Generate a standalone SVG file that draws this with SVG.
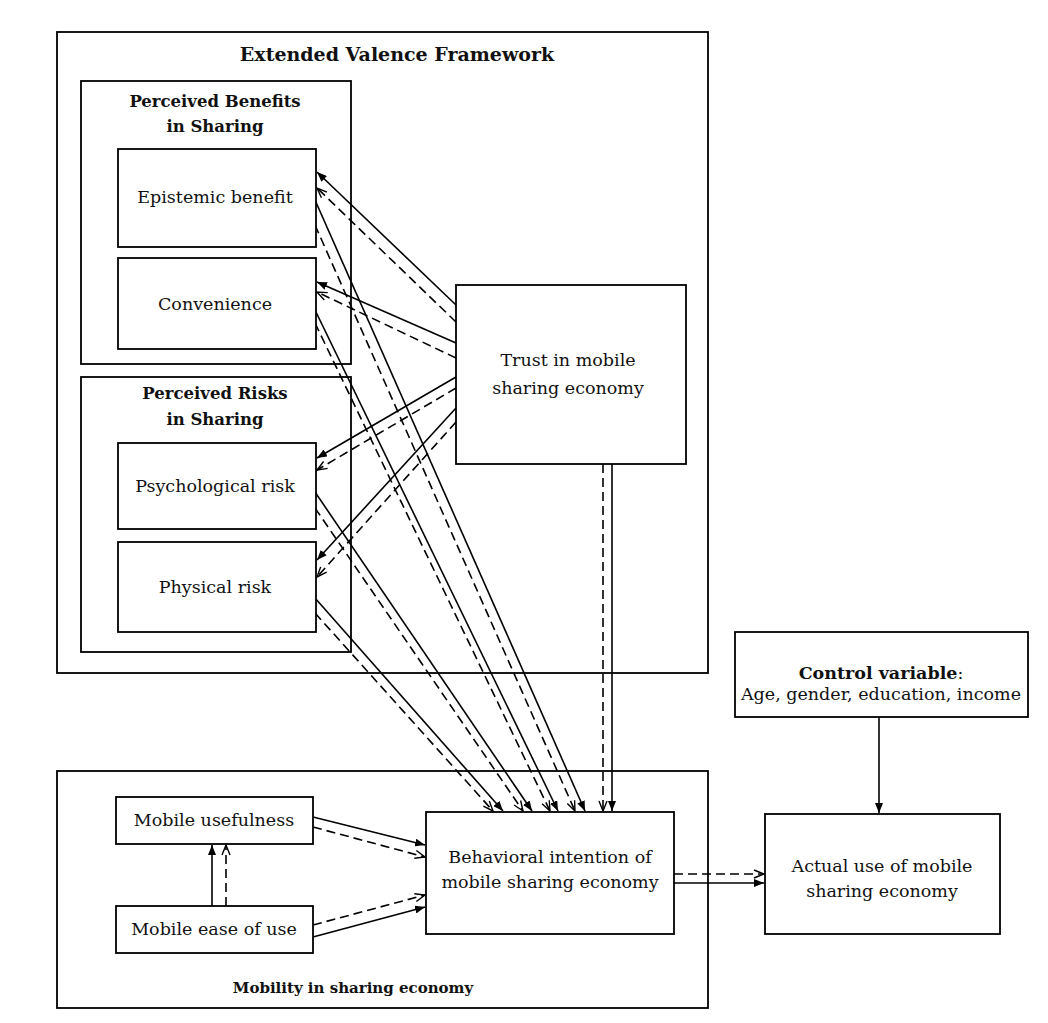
<svg xmlns="http://www.w3.org/2000/svg" width="1048" height="1023" viewBox="0 0 1048 1023">
  <style>
    .box { fill: none; stroke: #000; stroke-width: 1.8; }
    .node { fill: #fff; stroke: #000; stroke-width: 1.8; }
    text { font-family: "DejaVu Serif", "Liberation Serif", serif; font-size: 17.5px; fill: #111; text-anchor: middle; }
    .title { font-weight: bold; font-size: 16.5px; }
    .main-title { font-weight: bold; font-size: 19px; }
    .solid { stroke: #000; stroke-width: 1.6; fill: none; marker-end: url(#headFilled); }
    .dash { stroke: #000; stroke-width: 1.6; fill: none; stroke-dasharray: 9 5; marker-end: url(#headOpen); }
  </style>
  <defs>
    <marker id="headFilled" viewBox="0 0 10 8" refX="10" refY="4" markerWidth="10" markerHeight="8" markerUnits="userSpaceOnUse" orient="auto">
      <path d="M0,0 L10,4 L0,8 z" fill="#000"/>
    </marker>
    <marker id="headOpen" viewBox="0 0 12 10" refX="11" refY="5" markerWidth="12" markerHeight="10" markerUnits="userSpaceOnUse" orient="auto">
      <path d="M1,1 L11,5 L1,9" fill="none" stroke="#000" stroke-width="1.4"/>
    </marker>
  </defs>
  <rect width="1048" height="1023" fill="#fff"/>

  <!-- grouping frames -->
  <g id="extended-valence-framework">
    <rect class="box" x="57" y="32" width="651" height="641"/>
    <text class="main-title" x="397" y="61">Extended Valence Framework</text>
  </g>
  <g id="perceived-benefits">
    <rect class="box" x="81" y="81" width="270" height="283"/>
    <text class="title" x="215" y="107">Perceived Benefits</text>
    <text class="title" x="215" y="132">in Sharing</text>
  </g>
  <g id="perceived-risks">
    <rect class="box" x="81" y="377" width="270" height="275"/>
    <text class="title" x="215" y="399">Perceived Risks</text>
    <text class="title" x="215" y="425">in Sharing</text>
  </g>
  <g id="mobility-sharing-economy">
    <rect class="box" x="57" y="771" width="651" height="237"/>
    <text class="title" x="353" y="993" style="font-size:15px">Mobility in sharing economy</text>
  </g>

  <!-- connectors -->
  <g id="connectors">
    <!-- trust to benefits and risks -->
    <line class="solid" x1="456" y1="305" x2="317" y2="172"/>
    <line class="dash" x1="456" y1="322" x2="317" y2="188"/>
    <line class="solid" x1="456" y1="343" x2="317" y2="282"/>
    <line class="dash" x1="456" y1="358" x2="317" y2="292"/>
    <line class="solid" x1="456" y1="377" x2="317" y2="458"/>
    <line class="dash" x1="456" y1="388" x2="317" y2="470"/>
    <line class="solid" x1="456" y1="408" x2="317" y2="560"/>
    <line class="dash" x1="456" y1="422" x2="317" y2="577"/>
    <!-- benefits and risks to behavioral intention -->
    <line class="solid" x1="315" y1="200" x2="585" y2="811"/>
    <line class="dash" x1="315" y1="225" x2="575" y2="811"/>
    <line class="solid" x1="315" y1="310" x2="558" y2="811"/>
    <line class="dash" x1="315" y1="323" x2="550" y2="811"/>
    <line class="solid" x1="315" y1="492" x2="532" y2="811"/>
    <line class="dash" x1="315" y1="508" x2="523" y2="811"/>
    <line class="solid" x1="315" y1="598" x2="503" y2="811"/>
    <line class="dash" x1="315" y1="613" x2="493" y2="811"/>
    <!-- trust to behavioral intention -->
    <line class="dash" x1="603" y1="464" x2="603" y2="811"/>
    <line class="solid" x1="612" y1="464" x2="612" y2="811"/>
    <!-- mobility constructs -->
    <line class="solid" x1="313" y1="817" x2="425" y2="845"/>
    <line class="dash" x1="313" y1="827" x2="425" y2="857"/>
    <line class="dash" x1="313" y1="925" x2="425" y2="895"/>
    <line class="solid" x1="313" y1="937" x2="425" y2="907"/>
    <line class="solid" x1="212" y1="906" x2="212" y2="845"/>
    <line class="dash" x1="226" y1="906" x2="226" y2="845"/>
    <!-- to actual use -->
    <line class="dash" x1="674" y1="874" x2="764" y2="874"/>
    <line class="solid" x1="674" y1="883" x2="764" y2="883"/>
    <line class="solid" x1="879" y1="717" x2="879" y2="813"/>
  </g>

  <!-- nodes -->
  <g id="epistemic-benefit">
    <rect class="node" x="118" y="149" width="198" height="98"/>
    <text x="215" y="203">Epistemic benefit</text>
  </g>
  <g id="convenience">
    <rect class="node" x="118" y="258" width="198" height="91"/>
    <text x="215" y="310">Convenience</text>
  </g>
  <g id="psychological-risk">
    <rect class="node" x="118" y="443" width="198" height="86"/>
    <text x="215" y="492">Psychological risk</text>
  </g>
  <g id="physical-risk">
    <rect class="node" x="118" y="542" width="198" height="90"/>
    <text x="215" y="593">Physical risk</text>
  </g>
  <g id="trust">
    <rect class="node" x="456" y="285" width="230" height="179"/>
    <text x="568" y="366">Trust in mobile</text>
    <text x="568" y="394">sharing economy</text>
  </g>
  <g id="mobile-usefulness">
    <rect class="node" x="116" y="797" width="197" height="47"/>
    <text x="214" y="826">Mobile usefulness</text>
  </g>
  <g id="mobile-ease-of-use">
    <rect class="node" x="116" y="906" width="197" height="47"/>
    <text x="214" y="935">Mobile ease of use</text>
  </g>
  <g id="behavioral-intention">
    <rect class="node" x="426" y="812" width="248" height="122"/>
    <text x="550" y="863">Behavioral intention of</text>
    <text x="550" y="888">mobile sharing economy</text>
  </g>
  <g id="control-variable">
    <rect class="node" x="735" y="632" width="293" height="85"/>
    <text x="881" y="679"><tspan style="font-weight:bold">Control variable</tspan>:</text>
    <text x="881" y="700">Age, gender, education, income</text>
  </g>
  <g id="actual-use">
    <rect class="node" x="765" y="814" width="235" height="120"/>
    <text x="882" y="872">Actual use of mobile</text>
    <text x="882" y="897">sharing economy</text>
  </g>
</svg>
